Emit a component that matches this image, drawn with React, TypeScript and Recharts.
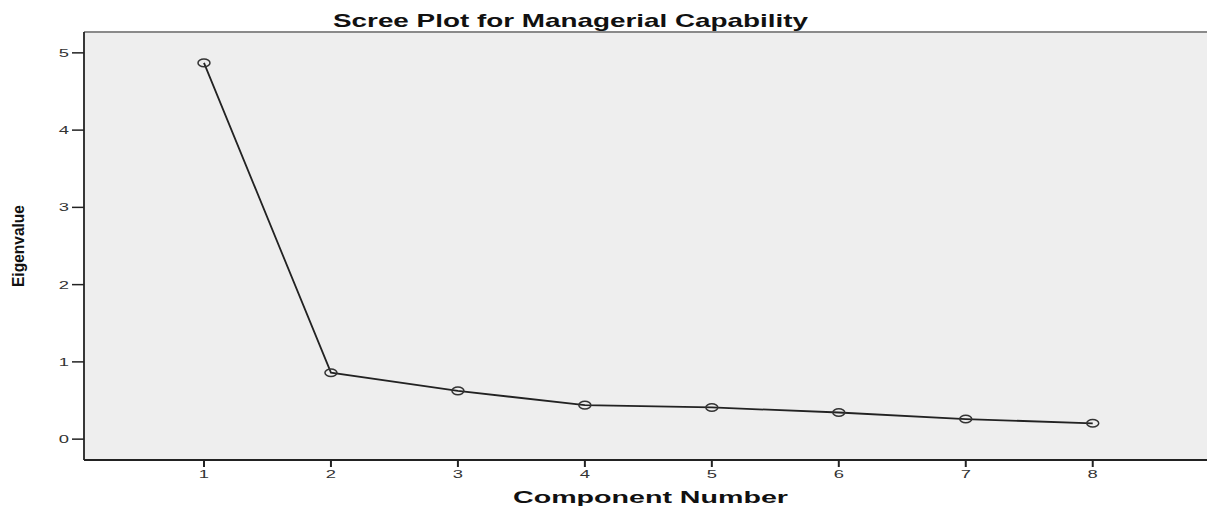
import React from 'react';
import { LineChart, Line, XAxis, YAxis, CartesianGrid, ReferenceLine } from 'recharts';

const components = [1, 2, 3, 4, 5, 6, 7, 8];
const eigenvalues = [4.87, 0.86, 0.625, 0.44, 0.41, 0.345, 0.26, 0.205];
const xTicks = [1, 2, 3, 4, 5, 6, 7, 8];
const yTicks = [0, 1, 2, 3, 4, 5];
const title = 'Scree Plot for Managerial Capability';
const xLabel = 'Component Number';
const yLabel = 'Eigenvalue';

const data = components.map((c, i) => ({ component: c, eigen: eigenvalues[i] }));

const FONT = '"Liberation Sans", Arial, sans-serif';

const XTick = (props: any) => {
  const { x, y, payload } = props;
  return (
    <text transform={`translate(${x},${y}) scale(1.6,1)`} y={9} textAnchor="middle" fontFamily={FONT} fontSize={11.5} fill="#333">
      {payload.value}
    </text>
  );
};

const YTick = (props: any) => {
  const { x, y, payload } = props;
  return (
    <text transform={`translate(${x - 1},${y}) scale(1.6,1)`} y={4} textAnchor="end" fontFamily={FONT} fontSize={11.5} fill="#333">
      {payload.value}
    </text>
  );
};

const Dot = (props: any) => {
  const { cx, cy, index } = props;
  if (cx == null || cy == null) return null;
  return <ellipse key={`d${index}`} cx={cx} cy={cy} rx={6} ry={3.8} fill="none" stroke="#333" strokeWidth={1.5} />;
};

export default function App() {
  return (
    <div style={{ position: 'absolute', left: 0, top: 0, width: 1207, height: 508, background: '#fff' }}>
      <LineChart width={1207} height={508} data={data} margin={{ top: 32, right: 0, bottom: 0, left: 0 }}>
        <CartesianGrid horizontal={false} vertical={false} fill="#eeeeee" fillOpacity={1} />
        <XAxis
          type="number"
          dataKey="component"
          domain={[0.055, 8.9]}
          ticks={xTicks}
          allowDataOverflow
          height={48}
          tickSize={7}
          tick={<XTick />}
          tickLine={{ stroke: '#222', strokeWidth: 2 }}
          axisLine={{ stroke: '#222', strokeWidth: 1.8 }}
          interval={0}
        />
        <YAxis
          type="number"
          domain={[-0.27, 5.27]}
          ticks={yTicks}
          allowDataOverflow
          width={84}
          tickSize={12}
          tick={<YTick />}
          tickLine={{ stroke: '#222', strokeWidth: 1.5 }}
          axisLine={{ stroke: '#222', strokeWidth: 1.8 }}
          interval={0}
        />
        <ReferenceLine y={5.27} stroke="#8a8a8a" strokeWidth={2} />
        <Line
          type="linear"
          dataKey="eigen"
          stroke="#222"
          strokeWidth={1.8}
          dot={<Dot />}
          activeDot={false}
          isAnimationActive={false}
        />
      </LineChart>
      <svg width={1207} height={508} style={{ position: 'absolute', left: 0, top: 0, pointerEvents: 'none' }}>
        <text x={570.5} y={27} textAnchor="middle" fontFamily={FONT} fontWeight="bold" fontSize={19} textLength={475} lengthAdjust="spacingAndGlyphs" fill="#111">
          {title}
        </text>
        <text x={650.5} y={503} textAnchor="middle" fontFamily={FONT} fontWeight="bold" fontSize={16.5} textLength={275} lengthAdjust="spacingAndGlyphs" fill="#111">
          {xLabel}
        </text>
        <text transform="translate(24,246) rotate(-90)" textAnchor="middle" fontFamily={FONT} fontWeight="bold" fontSize={17} textLength={82} lengthAdjust="spacingAndGlyphs" fill="#111">
          {yLabel}
        </text>
      </svg>
    </div>
  );
}
